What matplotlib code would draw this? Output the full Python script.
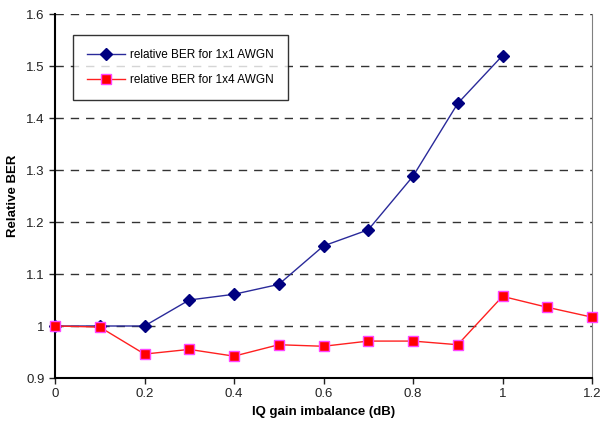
import matplotlib
matplotlib.use("Agg")
import matplotlib.pyplot as plt

plt.rcParams['font.family'] = ['Liberation Sans', 'DejaVu Sans']

# Data
gain_db = [0, 0.1, 0.2, 0.3, 0.4, 0.5, 0.6, 0.7, 0.8, 0.9, 1.0, 1.1, 1.2]
ber_1x1 = [1.0, 1.0, 1.0, 1.05, 1.061, 1.08, 1.154, 1.185, 1.288, 1.428, 1.52]
ber_1x4 = [1.0, 0.998, 0.946, 0.955, 0.942, 0.964, 0.961, 0.971, 0.971, 0.964,
           1.057, 1.036, 1.017]
y_ticks = [0.9, 1.0, 1.1, 1.2, 1.3, 1.4, 1.5, 1.6]
y_labels = ['0.9', '1', '1.1', '1.2', '1.3', '1.4', '1.5', '1.6']
x_ticks = [0, 0.2, 0.4, 0.6, 0.8, 1.0, 1.2]
x_labels = ['0', '0.2', '0.4', '0.6', '0.8', '1', '1.2']

fig = plt.figure(figsize=(6.02, 4.28), dpi=100)
ax = fig.add_axes([55 / 602, 50 / 428, 537 / 602, 364 / 428])

ax.plot(gain_db[:len(ber_1x1)], ber_1x1, color='#2a2a9a', linewidth=1,
        marker='D', markersize=6, markerfacecolor='#000080',
        markeredgecolor='#000080', label='relative BER for 1x1 AWGN',
        zorder=3, clip_on=False)
ax.plot(gain_db, ber_1x4, color='#ff2020', linewidth=1,
        marker='s', markersize=7, markerfacecolor='#ff0000',
        markeredgecolor='#ff44ff', markeredgewidth=1,
        label='relative BER for 1x4 AWGN', zorder=3, clip_on=False)

ax.set_xlim(0, 1.2)
ax.set_ylim(0.9, 1.6)
ax.set_xticks(x_ticks)
ax.set_xticklabels(x_labels)
ax.set_yticks(y_ticks)
ax.set_yticklabels(y_labels)
ax.tick_params(axis='both', labelsize=9.5, direction='out', length=4, width=1,
               colors='#222222')

for y in y_ticks[1:]:
    ax.axhline(y, color='#333333', linestyle=(0, (6, 5)), linewidth=1, zorder=1)

ax.spines['left'].set_linewidth(1.5)
ax.spines['bottom'].set_linewidth(1.5)
ax.spines['right'].set_color('#808080')
ax.spines['top'].set_visible(False)

ax.set_xlabel('IQ gain imbalance (dB)', fontsize=9.5, fontweight='bold',
              labelpad=4)
ax.set_ylabel('Relative BER', fontsize=9.5, fontweight='bold', labelpad=5)

leg = ax.legend(loc='upper left', bbox_to_anchor=(0.0335, 0.942), fontsize=8.5,
                frameon=True, fancybox=False, edgecolor='black',
                borderaxespad=0, borderpad=1.2, labelspacing=1.1,
                handlelength=3.2, handletextpad=0.45)
leg.get_frame().set_linewidth(1)

fig.savefig('out.png', dpi=100)
